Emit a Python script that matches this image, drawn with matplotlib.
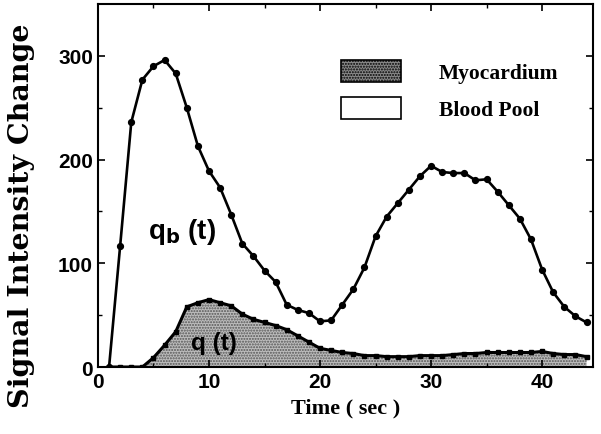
import matplotlib
matplotlib.use("Agg")
import matplotlib.pyplot as plt
from matplotlib.patches import Patch
import numpy as np

time_s = list(range(1, 45))
blood_pool = [0, 117, 236, 277, 290, 296, 283, 250, 213, 189,
              173, 147, 119, 107, 93, 82, 60, 55, 52, 44,
              45, 60, 75, 96, 126, 145, 158, 171, 184, 194,
              188, 187, 187, 180, 181, 169, 156, 143, 123, 94,
              72, 58, 49, 43]
myocardium = [0, 0, 0, 0, 9, 21, 34, 58, 62, 65,
              62, 59, 51, 46, 43, 40, 36, 30, 24, 18,
              16, 14, 13, 11, 11, 10, 10, 10, 11, 11,
              11, 12, 13, 13, 14, 14, 14, 14, 14, 15,
              13, 12, 12, 10]
x_ticks = [0, 10, 20, 30, 40]
y_ticks = [0, 100, 200, 300]
legend_labels = ["Myocardium", "Blood Pool"]

t = np.array(time_s)
b = np.array(blood_pool)
m = np.array(myocardium)

fig = plt.figure(figsize=(6.01, 4.35), dpi=100)
ax = fig.add_axes([0.163, 0.154, 0.824, 0.8345])

serif = ["Liberation Serif", "DejaVu Serif"]
wide_serif = ["DejaVu Serif"]
sans = ["Liberation Sans", "DejaVu Sans"]

# fills
ax.fill_between(t, m, b, facecolor="white", edgecolor="none", zorder=1)
ax.fill_between(t, 0, m, facecolor="#bdbdbd", hatch="......", edgecolor="#555555",
                linewidth=0, zorder=1)

ax.plot(t, b, color="black", lw=1.9, marker="o", ms=4.2, zorder=3)
ax.plot(t, m, color="black", lw=2.2, marker="s", ms=3.2, zorder=3)

ax.set_xlim(0, 44.6)
ax.set_ylim(0, 350)
ax.set_xticks(x_ticks)
ax.set_yticks(y_ticks)
ax.set_xticks([5, 15, 25, 35], minor=True)
ax.set_yticks([50, 150, 250], minor=True)
ax.tick_params(which="both", direction="in", top=True, right=True)
ax.tick_params(which="major", length=5, width=1.2)
ax.tick_params(which="minor", length=3, width=1)
for lab in ax.get_xticklabels() + ax.get_yticklabels():
    lab.set_fontfamily(sans)
    lab.set_fontweight("bold")
    lab.set_fontsize(15)
for sp in ax.spines.values():
    sp.set_linewidth(1.5)

ax.set_xlabel("Time ( sec )", fontfamily=serif, fontweight="bold", fontsize=16, labelpad=5)
ax.set_ylabel("Signal Intensity Change", fontfamily=wide_serif, fontweight="bold",
              fontsize=20.5)
ax.yaxis.set_label_coords(-0.128, 0.42)

ax.text(7.6, 131, r"q$_\mathbf{b}$ (t)", fontfamily=sans, fontweight="bold", fontsize=20,
        ha="center", va="center", zorder=4)
ax.text(10.4, 24, "q (t)", fontfamily=sans, fontweight="bold", fontsize=17.5,
        ha="center", va="center", zorder=4)

handles = [Patch(facecolor="#8a8a8a", hatch="......", edgecolor="black", linewidth=1.2),
           Patch(facecolor="white", edgecolor="black", linewidth=1.2)]
leg = ax.legend(handles, legend_labels, loc="upper left", bbox_to_anchor=(0.473, 0.87),
                frameon=False, handlelength=2.8, handleheight=1.2, handletextpad=1.75,
                labelspacing=0.65, borderaxespad=0,
                prop={"family": serif, "weight": "bold", "size": 15.5})

fig.savefig("out.png", dpi=100)
